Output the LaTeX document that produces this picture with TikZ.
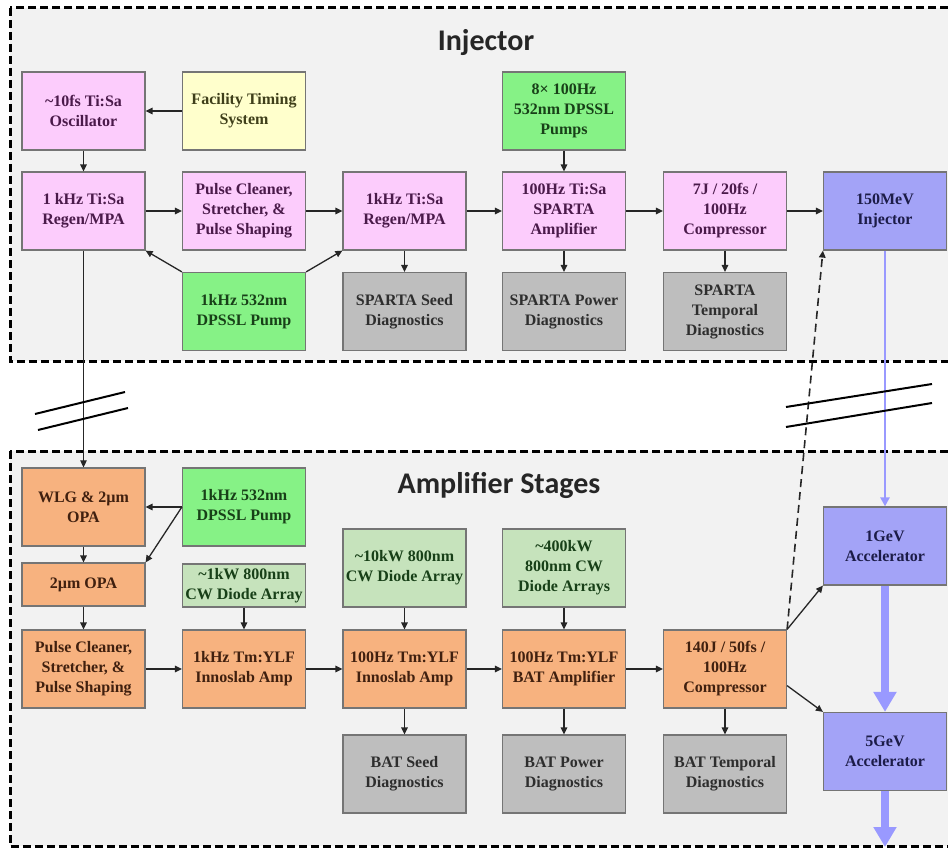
\documentclass[tikz,border=0pt]{standalone}
\usepackage{fontspec}
\setmainfont{Liberation Serif}
\newfontfamily\titlefont{Carlito}
\usetikzlibrary{arrows.meta,calc}
\definecolor{panelgray}{HTML}{F2F2F2}
\definecolor{pinkfill}{HTML}{FCCCFC}
\definecolor{yellowfill}{HTML}{FFFFCC}
\definecolor{greenfill}{HTML}{86F286}
\definecolor{lgreenfill}{HTML}{C6E3BC}
\definecolor{grayfill}{HTML}{BEBEBE}
\definecolor{orangefill}{HTML}{F7B27F}
\definecolor{bluefill}{HTML}{A3A3F7}
\definecolor{bluearrow}{HTML}{9999FF}
\definecolor{boxline}{HTML}{757575}
\definecolor{pinktext}{HTML}{4A1A4A}
\definecolor{yellowtext}{HTML}{3F3F1A}
\definecolor{greentext}{HTML}{184018}
\definecolor{graytext}{HTML}{2E2E2E}
\definecolor{orangetext}{HTML}{40200F}
\definecolor{bluetext}{HTML}{1C1C48}
\tikzset{
  panel/.style={fill=panelgray,draw=black,line width=3pt,dash pattern=on 8pt off 4pt},
  box/.style={draw=boxline,line width=1.2pt,minimum width=123pt,minimum height=78pt,
    align=center,inner sep=1pt,font=\bfseries\fontsize{16}{20}\selectfont},
  pinkbox/.style={box,fill=pinkfill,text=pinktext},
  yellowbox/.style={box,fill=yellowfill,text=yellowtext},
  greenbox/.style={box,fill=greenfill,text=greentext},
  lgreenbox/.style={box,fill=lgreenfill,text=greentext},
  graybox/.style={box,fill=grayfill,text=graytext},
  orangebox/.style={box,fill=orangefill,text=orangetext},
  bluebox/.style={box,fill=bluefill,text=bluetext},
  arr/.style={draw=black!85,line width=1.3pt,-{Triangle[length=7pt,width=6.5pt]}},
  brk/.style={draw=black,line width=2pt},
  ttl/.style={font=\titlefont\bfseries\fontsize{30}{32}\selectfont,anchor=base,text=black!85}
}
\begin{document}
\begin{tikzpicture}[x=1pt,y=-1pt]
\useasboundingbox (0,0) rectangle (948,848);
\clip (0,0) rectangle (948,848);
\fill[white] (0,0) rectangle (948,848);
% panels
\draw[panel] (10,8) rectangle (990,361);
\draw[panel] (10,451) rectangle (990,846);
\node[ttl] (t1) at (486,51) {Injector};
\node[ttl] (t2) at (499,493) {Amplifier Stages};
% injector row 1
\node[pinkbox] (osc) at (83.5,111) {\textasciitilde10fs Ti:Sa\\Oscillator};
\node[yellowbox] (fts) at (244,111) {Facility Timing\\System};
\node[greenbox] (pumps8) at (564,111) {8× 100Hz\\532nm DPSSL\\Pumps};
% injector row 2
\node[pinkbox] (regA) at (83.5,211) {1 kHz Ti:Sa\\Regen/MPA};
\node[pinkbox] (pcA) at (244,211) {Pulse Cleaner,\\Stretcher, \&\\Pulse Shaping};
\node[pinkbox] (regB) at (404.5,211) {1kHz Ti:Sa\\Regen/MPA};
\node[pinkbox] (sparta) at (564,211) {100Hz Ti:Sa\\SPARTA\\Amplifier};
\node[pinkbox] (compA) at (725,211) {7J / 20fs /\\100Hz\\Compressor};
\node[bluebox] (inj) at (885,211) {150MeV\\Injector};
% injector row 3
\node[greenbox] (pumpA) at (244,311.5) {1kHz 532nm\\DPSSL Pump};
\node[graybox] (sdA) at (404.5,311.5) {SPARTA Seed\\Diagnostics};
\node[graybox] (pdA) at (564,311.5) {SPARTA Power\\Diagnostics};
\node[graybox] (tdA) at (725,311.5) {SPARTA\\Temporal\\Diagnostics};
% amplifier stages
\node[orangebox] (wlg) at (83.5,507) {WLG \& 2µm\\OPA};
\node[greenbox] (pumpB) at (244,507) {1kHz 532nm\\DPSSL Pump};
\node[orangebox,minimum height=43pt] (opa) at (83.5,584.5) {2µm OPA};
\node[lgreenbox,minimum height=43pt] (dd1) at (244,585.5) {\textasciitilde1kW 800nm\\CW Diode Array};
\node[lgreenbox] (dd2) at (404.5,568) {\textasciitilde10kW 800nm\\CW Diode Array};
\node[lgreenbox] (dd3) at (564,568) {\textasciitilde400kW\\800nm CW\\Diode Arrays};
\node[orangebox] (pcB) at (83.5,669) {Pulse Cleaner,\\Stretcher, \&\\Pulse Shaping};
\node[orangebox] (ino1) at (244,669) {1kHz Tm:YLF\\Innoslab Amp};
\node[orangebox] (ino2) at (404.5,669) {100Hz Tm:YLF\\Innoslab Amp};
\node[orangebox] (bat) at (564,669) {100Hz Tm:YLF\\BAT Amplifier};
\node[orangebox] (compB) at (725,669) {140J / 50fs /\\100Hz\\Compressor};
\node[graybox] (sdB) at (404.5,774) {BAT Seed\\Diagnostics};
\node[graybox] (pdB) at (564,774) {BAT Power\\Diagnostics};
\node[graybox] (tdB) at (725,774) {BAT Temporal\\Diagnostics};
\node[bluebox] (g1) at (885,546) {1GeV\\Accelerator};
\node[bluebox] (g5) at (885,751.5) {5GeV\\Accelerator};
\coordinate (out) at (885,847);
% injector connectors
\draw[arr] (fts) -- (osc);
\draw[arr] (osc) -- (regA);
\draw[arr] (regA) -- (pcA);
\draw[arr] (pcA) -- (regB);
\draw[arr] (regB) -- (sparta);
\draw[arr] (sparta) -- (compA);
\draw[arr] (compA) -- (inj);
\draw[arr] (pumps8) -- (sparta);
\draw[arr] (pumpA.north west) -- (regA.south east);
\draw[arr] (pumpA.north east) -- (regB.south west);
\draw[arr] (regB) -- (sdA);
\draw[arr] (sparta) -- (pdA);
\draw[arr] (compA) -- (tdA);
% link between panels
\draw[arr,line width=1pt] (regA) -- (wlg);
% amplifier connectors
\draw[arr] (pumpB.west) -- (wlg.east);
\draw[arr] (pumpB.west) -- (opa.north east);
\draw[arr] (wlg) -- (opa);
\draw[arr] (opa) -- (pcB);
\draw[arr] (dd1) -- (ino1);
\draw[arr] (dd2) -- (ino2);
\draw[arr] (dd3) -- (bat);
\draw[arr] (pcB) -- (ino1);
\draw[arr] (ino1) -- (ino2);
\draw[arr] (ino2) -- (bat);
\draw[arr] (bat) -- (compB);
\draw[arr] (ino2) -- (sdB);
\draw[arr] (bat) -- (pdB);
\draw[arr] (compB) -- (tdB);
\draw[arr] (compB.north east) -- (g1.south west);
\draw[arr] (compB.-15) -- (g5.north west);
\draw[arr,dash pattern=on 8pt off 5pt,line width=1.6pt] (compB.north east) -- (inj.south west);
% beam line
\draw[draw=bluearrow,line width=2.5pt,-{Triangle[length=9pt,width=9pt]}] (inj) -- (g1);
\draw[draw=bluearrow,line width=8pt,-{Triangle[length=20pt,width=22pt]}] (g1) -- (g5);
\draw[draw=bluearrow,line width=8pt,-{Triangle[length=20pt,width=22pt]}] (g5) -- (out);
% break marks
\draw[brk] (35,414) -- (125,392);
\draw[brk] (38,430) -- (128,408);
\draw[brk] (786,407) -- (932,384);
\draw[brk] (786,427) -- (932,403);
\end{tikzpicture}
\end{document}
